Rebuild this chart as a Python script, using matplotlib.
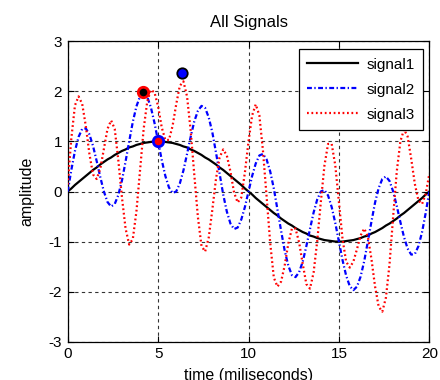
import numpy as np
import matplotlib
matplotlib.use("Agg")
import matplotlib.pyplot as plt

plt.rcParams['font.family'] = ['Liberation Sans', 'DejaVu Sans']

# sample spacing of the traces (milliseconds)
t_step = 0.2

signal1 = [0.00, 0.06, 0.13, 0.19, 0.25, 0.31, 0.37, 0.43, 0.48, 0.54,
           0.59, 0.64, 0.68, 0.73, 0.77, 0.81, 0.84, 0.88, 0.90, 0.93,
           0.95, 0.97, 0.98, 0.99, 1.00, 1.00, 1.00, 0.99, 0.98, 0.97,
           0.95, 0.93, 0.90, 0.88, 0.84, 0.81, 0.77, 0.73, 0.68, 0.64,
           0.59, 0.54, 0.48, 0.43, 0.37, 0.31, 0.25, 0.19, 0.13, 0.06,
           0.00, -0.06, -0.13, -0.19, -0.25, -0.31, -0.37, -0.43, -0.48, -0.54,
           -0.59, -0.64, -0.68, -0.73, -0.77, -0.81, -0.84, -0.88, -0.90, -0.93,
           -0.95, -0.97, -0.98, -0.99, -1.00, -1.00, -1.00, -0.99, -0.98, -0.97,
           -0.95, -0.93, -0.90, -0.88, -0.84, -0.81, -0.77, -0.73, -0.68, -0.64,
           -0.59, -0.54, -0.48, -0.43, -0.37, -0.31, -0.25, -0.19, -0.13, -0.06,
           0.00]

signal2 = [0.00, 0.43, 0.81, 1.09, 1.25, 1.26, 1.14, 0.91, 0.61, 0.29,
           0.00, -0.21, -0.30, -0.25, -0.07, 0.22, 0.60, 1.00, 1.39, 1.70,
           1.90, 1.97, 1.89, 1.68, 1.37, 1.00, 0.63, 0.31, 0.08, -0.03,
           0.00, 0.16, 0.42, 0.75, 1.09, 1.40, 1.61, 1.71, 1.67, 1.48,
           1.18, 0.78, 0.36, -0.06, -0.40, -0.64, -0.75, -0.72, -0.56, -0.31,
           0.00, 0.31, 0.56, 0.72, 0.75, 0.64, 0.40, 0.06, -0.36, -0.78,
           -1.18, -1.48, -1.67, -1.71, -1.61, -1.40, -1.09, -0.75, -0.42, -0.16,
           0.00, 0.03, -0.08, -0.31, -0.63, -1.00, -1.37, -1.68, -1.89, -1.97,
           -1.90, -1.70, -1.39, -1.00, -0.60, -0.22, 0.07, 0.25, 0.30, 0.21,
           0.00, -0.29, -0.61, -0.91, -1.14, -1.26, -1.25, -1.09, -0.81, -0.43,
           0.00]

signal3 = [0.14, 1.06, 1.72, 1.90, 1.75, 1.31, 0.75, 0.34, 0.25, 0.45,
           0.85, 1.25, 1.42, 1.25, 0.62, -0.12, -0.74, -1.06, -0.95, -0.40,
           0.42, 1.25, 1.80, 2.03, 1.98, 1.70, 1.28, 1.03, 1.03, 1.31,
           1.74, 2.11, 2.20, 1.90, 1.22, 0.34, -0.51, -1.09, -1.20, -0.92,
           -0.36, 0.25, 0.68, 0.84, 0.72, 0.40, -0.02, -0.22, -0.12, 0.38,
           1.00, 1.52, 1.74, 1.52, 0.81, -0.10, -1.03, -1.72, -1.90, -1.80,
           -1.48, -1.04, -0.74, -0.74, -1.02, -1.45, -1.85, -1.94, -1.62, -0.99,
           -0.21, 0.52, 0.95, 0.95, 0.52, -0.21, -0.95, -1.40, -1.52, -1.40,
           -1.15, -0.88, -0.74, -0.90, -1.35, -1.90, -2.30, -2.40, -2.12, -1.45,
           -0.50, 0.40, 1.00, 1.24, 1.10, 0.65, 0.15, -0.18, -0.25, -0.05,
           0.35]

# highlighted points (time, amplitude)
mark_s2_t, mark_s2_v = 4.17, 1.98
mark_s1_t, mark_s1_v = 5.0, 1.0
mark_s3_t, mark_s3_v = 6.3, 2.36

series_labels = ['signal1', 'signal2', 'signal3']
x_ticks = [0, 5, 10, 15, 20]
y_ticks = [-3, -2, -1, 0, 1, 2, 3]

t = np.arange(len(signal1)) * t_step

fig = plt.figure(figsize=(4.4, 3.8), dpi=100)
ax = fig.add_axes([0.1539, 0.1008, 0.8218, 0.7905])

ax.plot(t, signal1, color='black', lw=1.6, label=series_labels[0], zorder=3)
ax.plot(t, signal2, color='blue', lw=1.6, linestyle=(0, (2.2, 1.1, 0.6, 1.1)),
        label=series_labels[1], zorder=4)
ax.plot(t, signal3, color='red', lw=1.6, linestyle=(0, (0.8, 1.2)),
        label=series_labels[2], zorder=5)

ax.plot([mark_s2_t], [mark_s2_v], 'o', ms=7.5, mfc='black', mec='red', mew=2.0, zorder=6)
ax.plot([mark_s1_t], [mark_s1_v], 'o', ms=7.5, mfc='red', mec='blue', mew=2.0, zorder=6)
ax.plot([mark_s3_t], [mark_s3_v], 'o', ms=7.5, mfc='blue', mec='black', mew=1.3, zorder=6)

ax.set_xlim(0, 20)
ax.set_ylim(-3, 3)
ax.set_xticks(x_ticks)
ax.set_yticks(y_ticks)
ax.set_xticklabels([str(v) for v in x_ticks])
ax.set_yticklabels([str(v) for v in y_ticks])

ax.grid(True, color='black', linestyle=(0, (3, 3)), lw=0.8, alpha=0.8)
ax.tick_params(direction='in', length=4, width=0.8, top=True, right=True,
               labelsize=11, colors='black')
ax.tick_params(axis='x', pad=3.5)
ax.tick_params(axis='y', pad=4)
for s in ax.spines.values():
    s.set_linewidth(0.9)
    s.set_color('black')

ax.set_title('All Signals', fontsize=12, pad=10)
ax.set_xlabel('time (miliseconds)', fontsize=11.5)
ax.set_ylabel('amplitude', fontsize=11.5)
ax.xaxis.set_label_coords(0.5, -0.089)
ax.xaxis.label.set_verticalalignment('top')
ax.yaxis.set_label_coords(-0.092, 0.5)

leg = ax.legend(loc='upper right', bbox_to_anchor=(0.982, 0.973),
                borderaxespad=0, fancybox=False, edgecolor='black',
                framealpha=1, fontsize=11, handlelength=3.3,
                handletextpad=0.55, labelspacing=0.72, borderpad=0.55)
leg.get_frame().set_linewidth(0.9)
leg.set_zorder(10)

fig.savefig('out.png', dpi=100)
